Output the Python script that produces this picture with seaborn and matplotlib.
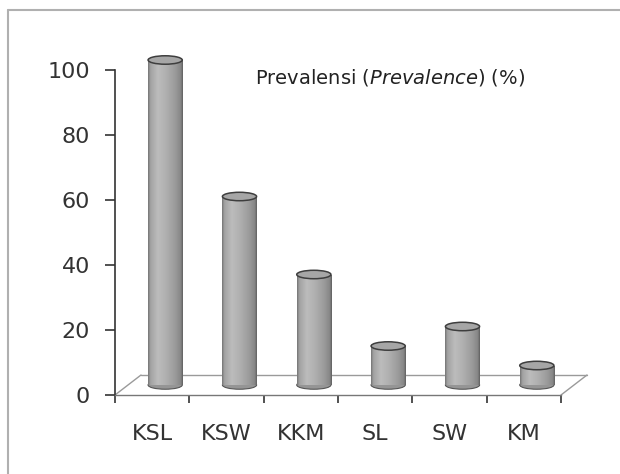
import numpy as np
import pandas as pd
import seaborn as sns
import matplotlib
matplotlib.use("Agg")
import matplotlib.pyplot as plt
from matplotlib.patches import Ellipse
from matplotlib.lines import Line2D
from matplotlib.transforms import ScaledTranslation
from matplotlib.colors import LinearSegmentedColormap

# ---- data ----
categories = ["KSL", "KSW", "KKM", "SL", "SW", "KM"]
prevalence = [100, 58, 34, 12, 18, 6]
y_ticks = [0, 20, 40, 60, 80, 100]
label_text = "Prevalensi ($\\it{Prevalence}$) (%)"

sns.set_style("white")
plt.rcParams["font.family"] = ["DejaVu Sans"]

fig = plt.figure(figsize=(6.2, 4.74), dpi=100)
W, H = 620, 474
ax = fig.add_axes([115 / W, 1 - 395 / H, (561 - 115) / W, (395 - 70) / H])

df = pd.DataFrame({"cat": categories, "val": prevalence})
sns.barplot(data=df, x="cat", y="val", color="#a8a8a8", width=0.46,
            saturation=1, ax=ax, errorbar=None, edgecolor="none")

ax.set_xlim(-0.5, len(categories) - 0.5)
ax.set_ylim(0, 100)

# 3D offsets (in inches, dpi=100)
bar_off = ax.transData + ScaledTranslation(13 / 100, 10 / 100, fig.dpi_scale_trans)
back_off = ax.transData + ScaledTranslation(26 / 100, 20 / 100, fig.dpi_scale_trans)

cmap = LinearSegmentedColormap.from_list(
    "cyl",
    [(0.0, "#747474"), (0.07, "#a2a2a2"), (0.28, "#bcbcbc"), (0.5, "#b1b1b1"),
     (0.78, "#9b9b9b"), (0.94, "#868686"), (1.0, "#5e5e5e")])
grad = np.linspace(0, 1, 256).reshape(1, -1)

ell_h = 2.6
for p in list(ax.patches):
    x0 = p.get_x()
    w = p.get_width()
    h = p.get_height()
    cx = x0 + w / 2
    p.set_transform(bar_off)
    p.set_clip_on(False)
    p.set_zorder(3)
    # bottom half-ellipse
    eb = Ellipse((cx, 0), w, ell_h, transform=bar_off, facecolor="#959595",
                 edgecolor="#555555", lw=0.8, zorder=2.5, clip_on=False)
    ax.add_patch(eb)
    im = ax.imshow(grad, extent=[x0, x0 + w, 0, h], cmap=cmap, aspect="auto",
                   transform=bar_off, zorder=3.2, interpolation="bilinear")
    im.set_clip_path(p)
    # top ellipse
    et = Ellipse((cx, h), w, ell_h, transform=bar_off, facecolor="#a6a6a6",
                 edgecolor="#3e3e3e", lw=1.1, zorder=4, clip_on=False)
    ax.add_patch(et)

ax.set_xlim(-0.5, len(categories) - 0.5)
ax.set_ylim(0, 100)

# floor
floor_col = "#9a9a9a"
xl, xr = -0.5, len(categories) - 0.5
ax.add_line(Line2D([xl, xr], [0, 0], transform=back_off, color=floor_col,
                   lw=1.0, clip_on=False, zorder=1))
for xv in (xl, xr):
    p0 = ax.transData.transform((xv, 0))
    ax.add_line(Line2D([p0[0], p0[0] + 26], [p0[1], p0[1] + 20], transform=None,
                       color=floor_col, lw=1.0, clip_on=False, zorder=1))

# spines
sns.despine(ax=ax, top=True, right=True)
ax.spines["left"].set_color("#333333")
ax.spines["left"].set_linewidth(1.2)
ax.spines["bottom"].set_color("#777777")
ax.spines["bottom"].set_linewidth(1.0)

ax.set_yticks(y_ticks)
ax.set_yticklabels([str(v) for v in y_ticks])
ax.tick_params(axis="y", direction="out", length=7, width=1.2, color="#333333",
               pad=11, labelsize=16, labelcolor="#333333", left=True)

ax.set_xticks(range(len(categories)))
ax.set_xticklabels(categories)
ax.set_xticks(np.arange(-0.5, len(categories), 1.0), minor=True)
ax.tick_params(axis="x", which="major", length=0, pad=21, labelsize=16,
               labelcolor="#333333")
ax.tick_params(axis="x", which="minor", direction="out", length=6, width=1.2,
               color="#333333", bottom=True)
ax.set_xlabel("")
ax.set_ylabel("")

fig.text(255 / W, 1 - 78 / H, label_text, ha="left", va="center",
         fontsize=14, color="#222222")

# outer frame (top + left)
fig.add_artist(Line2D([8 / W, 1], [1 - 10 / H, 1 - 10 / H], transform=fig.transFigure,
                      color="#b0b0b0", lw=1.5))
fig.add_artist(Line2D([8 / W, 8 / W], [0, 1 - 10 / H], transform=fig.transFigure,
                      color="#b0b0b0", lw=1.5))

fig.savefig("out.png", dpi=100)
